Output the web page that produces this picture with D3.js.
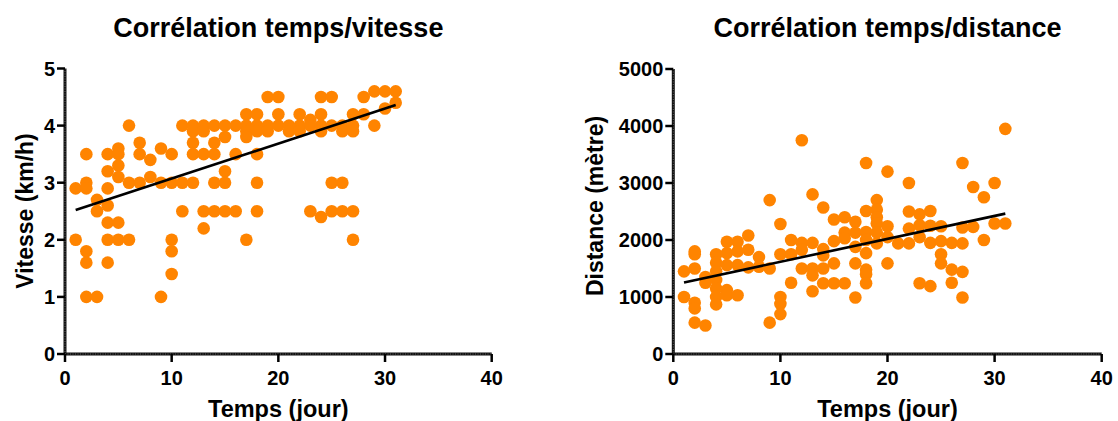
<!doctype html>
<html lang="fr">
<head>
<meta charset="utf-8">
<title>Corrélations</title>
<style>
    body { margin: 0; background: #fff; }
    svg { display: block; }
    text { font-family: "Liberation Sans", Arial, sans-serif; font-weight: bold; fill: #000; }
    .dot { fill: #ff8400; }
    .fit { stroke: #000; stroke-width: 2.6px; fill: none; }
    .axis-line { stroke: #111; stroke-width: 3px; fill: none; }
    .axis-tex { stroke: #fff; stroke-width: 1px; stroke-dasharray: 1 1.5; opacity: 0.35; fill: none; }
    .tick-mark { stroke: #000; stroke-width: 2.5px; }
</style>
</head>
<body>
<svg id="plot" width="1118" height="421"></svg>

<script src="https://cdn.jsdelivr.net/npm/d3@7"></script>
<script>
// jours de mesure
const jours = [1, 2, 3, 4, 5, 6, 7, 8, 9, 10, 11, 12, 13, 14, 15, 16,
               17, 18, 19, 20, 21, 22, 23, 24, 25, 26, 27, 28, 29, 30, 31];

// vitesse (km/h) relevée chaque jour
const vitesses = [
    [2.9, 2.0],
    [3.5, 3.0, 2.9, 1.8, 1.6, 1.0],
    [2.7, 2.5, 1.0],
    [3.5, 3.2, 2.9, 2.6, 2.3, 2.0, 1.6],
    [3.6, 3.5, 3.3, 3.1, 2.3, 2.0],
    [4.0, 3.0, 2.0],
    [3.7, 3.5, 3.0],
    [3.4, 3.1],
    [3.6, 3.0, 1.0],
    [3.5, 3.0, 2.0, 1.8, 1.4],
    [4.0, 3.0, 2.5],
    [4.0, 3.9, 3.7, 3.5, 3.0],
    [4.0, 3.9, 3.5, 2.5, 2.2],
    [4.0, 3.7, 3.5, 3.0, 2.5],
    [4.0, 3.8, 3.2, 3.0, 2.5],
    [4.0, 3.5, 2.5],
    [4.2, 4.0, 3.9, 3.8, 2.0],
    [4.2, 4.0, 3.9, 3.5, 3.0, 2.5],
    [4.5, 4.0, 3.9],
    [4.5, 4.2, 4.0],
    [4.0, 3.9],
    [4.2, 4.0, 3.9],
    [4.1, 4.0, 2.5],
    [4.5, 4.2, 4.0, 3.9, 2.4],
    [4.5, 4.0, 3.0, 2.5],
    [4.0, 3.9, 3.0, 2.5],
    [4.2, 4.0, 3.9, 2.5, 2.0],
    [4.5, 4.2],
    [4.6, 4.0],
    [4.6, 4.3],
    [4.6, 4.4]
];

// distance (mètre) relevée chaque jour
const distances = [
    [1450, 1000],
    [1800, 1750, 1500, 900, 800, 550],
    [1350, 1250, 500],
    [1750, 1600, 1450, 1300, 1150, 1000, 870],
    [1970, 1770, 1560, 1120, 1030],
    [1970, 1800, 1560, 1030],
    [2080, 1830, 1520],
    [1700, 1530],
    [2700, 1500, 550],
    [2280, 1750, 1000, 880, 700],
    [2000, 1750, 1250],
    [3750, 1950, 1830, 1500],
    [2800, 1950, 1500, 1380, 1100],
    [2570, 1840, 1730, 1500, 1240],
    [2360, 1980, 1590, 1240],
    [2400, 2130, 2030, 1240],
    [2320, 2130, 1880, 1590, 990],
    [3350, 2510, 2140, 2000, 1770, 1480, 1400, 1240],
    [2700, 2530, 2400, 2290, 2130, 1940],
    [3200, 2240, 2050, 1590],
    [1940],
    [3000, 2500, 2200, 1940],
    [2450, 2260, 2050, 1240],
    [2510, 2250, 1950, 1190],
    [2240, 1980, 1750, 1590],
    [1950, 1480, 1250],
    [3350, 2220, 1940, 1440, 990],
    [2930, 2230],
    [2750, 2000],
    [3000, 2290],
    [3950, 2290]
];

// droites de régression : [jour, valeur] aux extrémités
const vitesseFit = [[1, 2.52], [31, 4.36]];
const distanceFit = [[1, 1255], [31, 2463]];

const xTicks = [0, 10, 20, 30, 40];
const vitesseTicks = [0, 1, 2, 3, 4, 5];
const distanceTicks = [0, 1000, 2000, 3000, 4000, 5000];

let svg = d3.select("#plot");

function flatten(values) {
    let pts = [];
    jours.forEach(function(j, i) {
        values[i].forEach(function(v) { pts.push([j, v]); });
    });
    return pts;
}

function panel(opt) {
    let x = d3.scaleLinear().domain([0, 40]).range([opt.left, opt.right]);
    let y = d3.scaleLinear().domain([0, opt.yMax]).range([opt.bottom, opt.top]);
    let g = svg.append("g");
    let pts = flatten(opt.values);

    // points
    g.selectAll("circle")
        .data(pts)
        .enter().append("circle")
        .attr("class", "dot")
        .attr("cx", d => x(d[0]))
        .attr("cy", d => y(d[1]))
        .attr("r", 6.3);

    // régression
    g.append("path")
        .datum(opt.fit)
        .attr("class", "fit")
        .attr("d", d3.line().x(d => x(d[0])).y(d => y(d[1])));

    // axes
    let ax = g.append("g");
    let yLine = [[opt.left, y(opt.yMax)], [opt.left, opt.bottom]];
    let xLine = [[opt.left, opt.bottom], [x(40), opt.bottom]];
    [yLine, xLine].forEach(function(l) {
        ax.append("path").attr("class", "axis-line").attr("d", d3.line()(l));
        ax.append("path").attr("class", "axis-tex").attr("d", d3.line()(l));
    });

    ax.selectAll(".ytick")
        .data(opt.yTicks)
        .enter().append("line")
        .attr("class", "tick-mark")
        .attr("x1", opt.left - 8).attr("x2", opt.left)
        .attr("y1", d => y(d)).attr("y2", d => y(d));

    ax.selectAll(".ylab")
        .data(opt.yTicks)
        .enter().append("text")
        .attr("x", opt.left - 10)
        .attr("y", d => y(d))
        .attr("dy", "0.36em")
        .attr("text-anchor", "end")
        .style("font-size", "20px")
        .text(d => d);

    ax.selectAll(".xtick")
        .data(xTicks)
        .enter().append("line")
        .attr("class", "tick-mark")
        .attr("x1", d => x(d)).attr("x2", d => x(d))
        .attr("y1", opt.bottom).attr("y2", opt.bottom + 8);

    ax.selectAll(".xlab")
        .data(xTicks)
        .enter().append("text")
        .attr("x", d => x(d))
        .attr("y", opt.bottom + 31)
        .attr("text-anchor", "middle")
        .style("font-size", "20px")
        .text(d => d);

    // titres
    let mid = (opt.left + x(40)) / 2;
    g.append("text")
        .attr("x", mid).attr("y", 37)
        .attr("text-anchor", "middle")
        .style("font-size", "27px")
        .text(opt.title);

    g.append("text")
        .attr("x", mid).attr("y", 417)
        .attr("text-anchor", "middle")
        .style("font-size", "23.5px")
        .text("Temps (jour)");

    g.append("text")
        .attr("transform", "translate(" + opt.yTitleX + "," + opt.yTitleY + ") rotate(-90)")
        .attr("text-anchor", "middle")
        .style("font-size", "23px")
        .text(opt.yTitle);
}

panel({
    left: 65, right: 491.7, top: 68.5, bottom: 354,
    yMax: 5, yTicks: vitesseTicks, values: vitesses, fit: vitesseFit,
    title: "Corrélation temps/vitesse",
    yTitle: "Vitesse (km/h)", yTitleX: 33, yTitleY: 211
});

panel({
    left: 673.3, right: 1101.7, top: 69, bottom: 354,
    yMax: 5000, yTicks: distanceTicks, values: distances, fit: distanceFit,
    title: "Corrélation temps/distance",
    yTitle: "Distance (mètre)", yTitleX: 603, yTitleY: 206
});
</script>
</body>
</html>
